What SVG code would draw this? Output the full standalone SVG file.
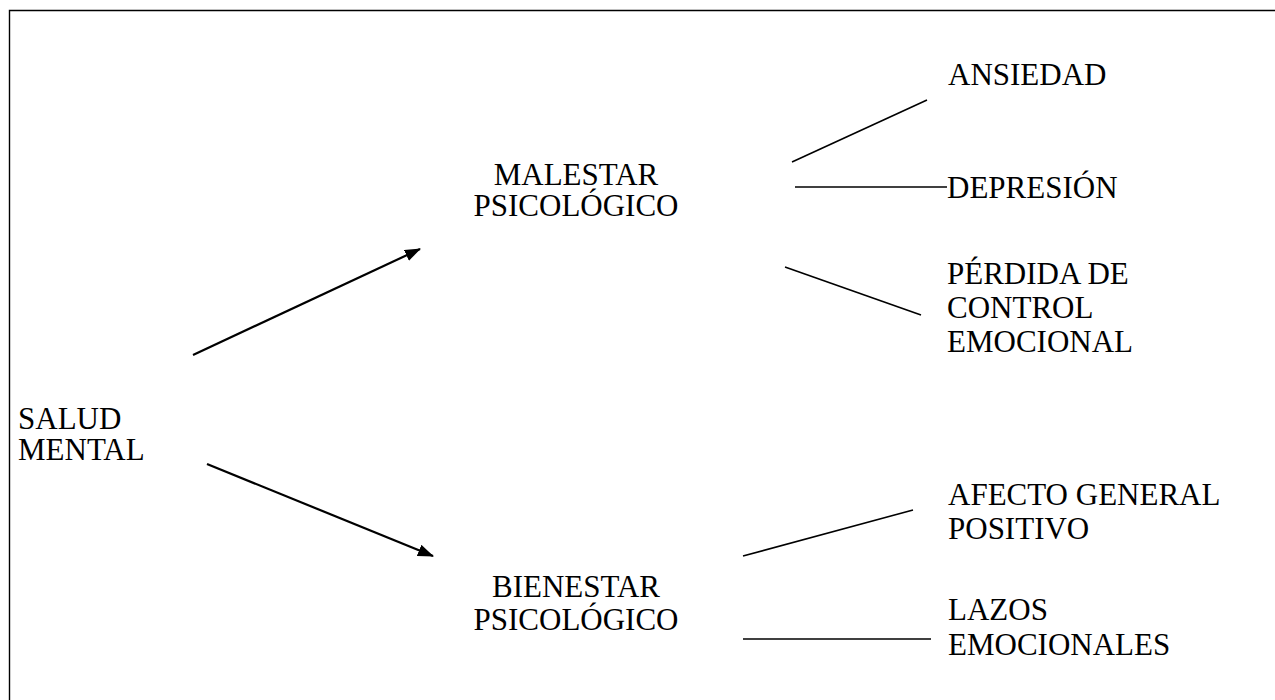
<svg xmlns="http://www.w3.org/2000/svg" width="1275" height="700" viewBox="0 0 1275 700">
<style>
text{font-family:'Liberation Serif','Times New Roman',Tinos,'DejaVu Serif',serif;font-size:31px;fill:#000}
.c{text-anchor:middle}
.ln{stroke:#000;stroke-width:1.6;fill:none}
.ar{stroke:#000;stroke-width:2.2;fill:none}
</style>
<defs>
<marker id="ah" viewBox="0 0 16 12" refX="15" refY="6" markerWidth="16" markerHeight="12" markerUnits="userSpaceOnUse" orient="auto">
<path d="M0,0 L16,6 L0,12 z" fill="#000"/>
</marker>
</defs>
<rect width="1275" height="700" fill="#fff"/>
<path d="M9.5,701 V10.5 H1276" stroke="#000" stroke-width="1.4" fill="none"/>
<g id="connectors">
<line class="ar" x1="193" y1="355" x2="420" y2="249" marker-end="url(#ah)"/>
<line class="ar" x1="207" y1="464" x2="433" y2="556" marker-end="url(#ah)"/>
<line class="ln" x1="792" y1="162" x2="927" y2="100"/>
<line class="ln" x1="795" y1="187" x2="947" y2="187"/>
<line class="ln" x1="785" y1="267" x2="921" y2="315"/>
<line class="ln" x1="743" y1="556" x2="913" y2="510"/>
<line class="ln" x1="743" y1="639" x2="931" y2="639"/>
</g>
<g id="salud-mental"><text x="18" y="429">SALUD</text><text x="18" y="460">MENTAL</text></g>
<g id="malestar"><text class="c" x="576" y="185">MALESTAR</text><text class="c" x="576" y="216">PSICOLÓGICO</text></g>
<g id="bienestar"><text class="c" x="576" y="597">BIENESTAR</text><text class="c" x="576" y="630">PSICOLÓGICO</text></g>
<g id="ansiedad"><text x="948" y="85">ANSIEDAD</text></g>
<g id="depresion"><text x="947" y="198">DEPRESIÓN</text></g>
<g id="perdida"><text x="947" y="284">PÉRDIDA DE</text><text x="947" y="318">CONTROL</text><text x="947" y="352">EMOCIONAL</text></g>
<g id="afecto"><text x="948" y="505">AFECTO GENERAL</text><text x="948" y="539">POSITIVO</text></g>
<g id="lazos"><text x="948" y="620">LAZOS</text><text x="948" y="655">EMOCIONALES</text></g>
</svg>
